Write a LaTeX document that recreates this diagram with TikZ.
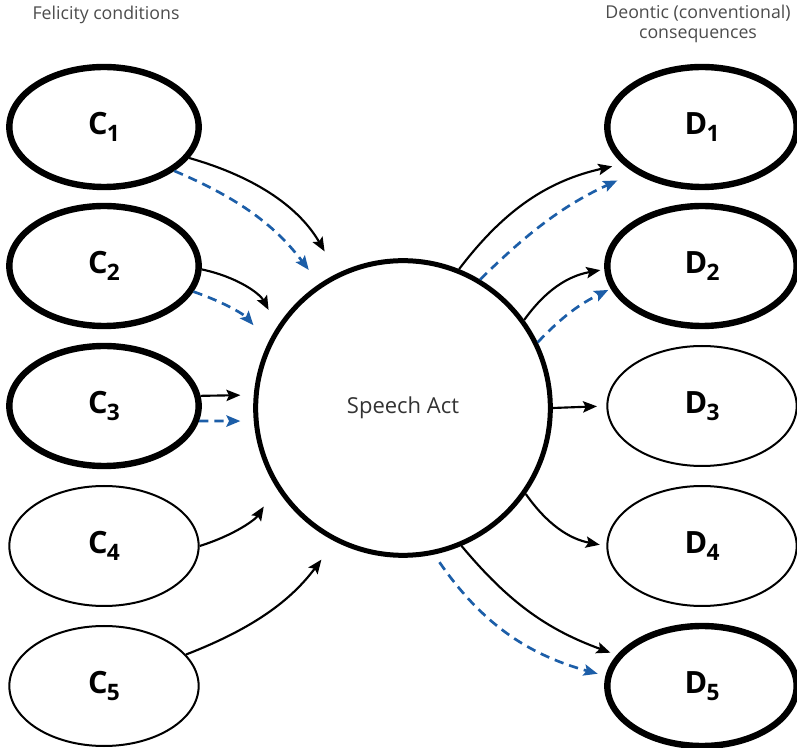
\documentclass[tikz,border=0pt]{standalone}
\usepackage{fontspec}
\setmainfont{Open Sans}
\usetikzlibrary{arrows.meta,shapes.geometric}
\definecolor{actblue}{RGB}{28,94,168}
\newcommand{\subl}[2]{#1\kern-0.5pt\raisebox{-5pt}{\fontsize{17}{17}\selectfont #2}}
\begin{document}
\begin{tikzpicture}[x=0.75pt,y=-0.75pt,>={Stealth[length=10.5pt,width=8.5pt,inset=2pt]},
    cond/.style={ellipse,draw,inner sep=0pt,minimum width=142pt,minimum height=90pt,font=\fontsize{23}{23}\selectfont\bfseries},
    heavy/.style={cond,line width=4.8pt},
    light/.style={cond,line width=1.5pt},
    act/.style={circle,draw,line width=3.75pt,inner sep=0pt,minimum size=221pt,text=black!80,font=\fontsize{16.5}{16.5}\selectfont},
    hdr/.style={text=black!70,font=\fontsize{13.3}{15}\selectfont,align=center},
    link/.style={->,line width=1.6pt},
    blink/.style={->,line width=2pt,actblue,dash pattern=on 7pt off 4.5pt}]
    \useasboundingbox (0,0) rectangle (797,748);
    \node[hdr] (FC) at (106,15) {Felicity conditions};
    \node[hdr] (DC) at (698,24) {Deontic (conventional)\\consequences};
    \node[act] (SA) at (403,408) {Speech Act};
    \node[heavy] (C1) at (104,127) {\subl{C}{1}};
    \node[heavy] (C2) at (104,266) {\subl{C}{2}};
    \node[heavy] (C3) at (104,406) {\subl{C}{3}};
    \node[light] (C4) at (104,546) {\subl{C}{4}};
    \node[light] (C5) at (104,686) {\subl{C}{5}};
    \node[heavy] (D1) at (702,127) {\subl{D}{1}};
    \node[heavy] (D2) at (702,266) {\subl{D}{2}};
    \node[light] (D3) at (702,406) {\subl{D}{3}};
    \node[light] (D4) at (702,546) {\subl{D}{4}};
    \node[heavy] (D5) at (702,686) {\subl{D}{5}};
    % conditions into the act
    \draw[link,shorten >=19pt] (C1.-20) to[bend left=22] (SA.116);
    \draw[blink,shorten >=13pt] (C1.-32) to[bend left=15] (SA.124);
    \draw[link,shorten >=14pt] (C2.-2) to[bend left=25] (SA.147);
    \draw[blink,shorten >=17pt] (C2.-16) to[bend left=15] (SA.154);
    \draw[link,shorten >=10pt] (C3.6) -- (SA.175);
    \draw[blink,shorten >=10pt] (C3.-9) -- (SA.185);
    \draw[link,shorten >=17pt] (C4.0) to[bend right=20] (SA.212);
    \draw[link,shorten >=17pt] (C5.21) to[bend right=16] (SA.243);
    % consequences out of the act
    \draw[link,shorten >=8pt] (SA.68) to[bend left=20] (D1.205);
    \draw[blink,shorten >=14pt] (SA.59) to[bend left=10] (D1.214);
    \draw[link,shorten >=3pt] (SA.36) to[bend left=22] (D2.182);
    \draw[blink,shorten >=2pt] (SA.26) to[bend left=10] (D2.194);
    \draw[link,shorten >=7pt] (SA.0) -- (D3.180);
    \draw[link,shorten >=5pt] (SA.-35) to[bend right=22] (D4.180);
    \draw[link,shorten >=5pt] (SA.-67) to[bend right=15] (D5.160);
    \draw[blink,shorten <=7pt,shorten >=6pt] (SA.-78) to[bend right=20] (D5.174);
\end{tikzpicture}
\end{document}
